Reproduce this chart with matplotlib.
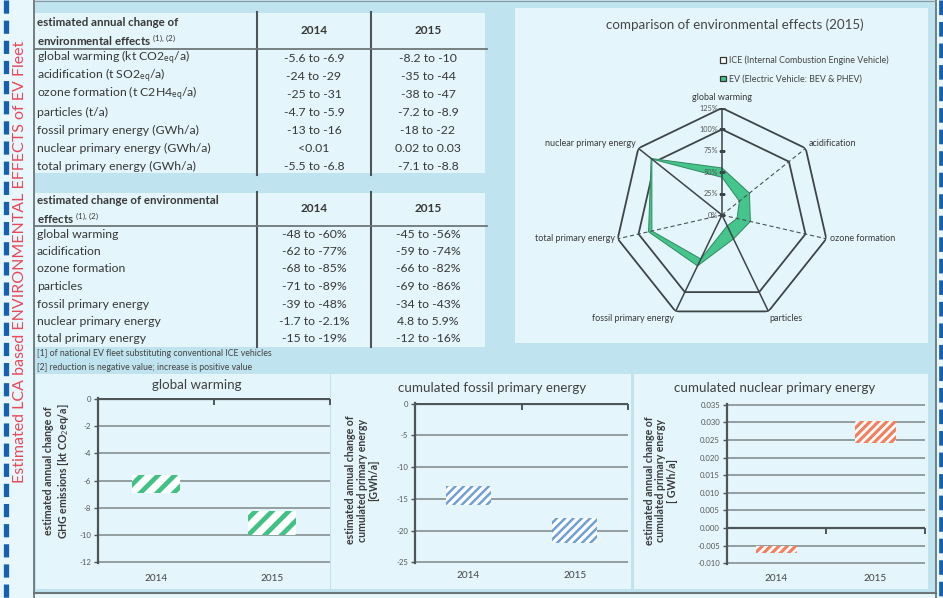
import numpy as np
import matplotlib.pyplot as plt
from matplotlib.patches import Rectangle, Patch

plt.rcParams['font.family'] = ['Lato', 'DejaVu Sans']
plt.rcParams['mathtext.fontset'] = 'custom'
plt.rcParams['mathtext.rm'] = 'Lato'
plt.rcParams['mathtext.it'] = 'Lato:italic'
plt.rcParams['mathtext.bf'] = 'Lato:bold'
plt.rcParams['axes.unicode_minus'] = False
plt.rcParams['lines.scale_dashes'] = False

W, H = 943, 598

# ---- table data ----
years = ["2014", "2015"]
annual_rows = ["global warming (kt CO2$_{\\mathrm{eq}}$/a)",
               "acidification (t SO2$_{\\mathrm{eq}}$/a)",
               "ozone formation (t C2H4$_{\\mathrm{eq}}$/a)",
               "particles (t/a)",
               "fossil primary energy (GWh/a)",
               "nuclear primary energy (GWh/a)",
               "total primary energy (GWh/a)"]
annual_2014 = ["-5.6 to -6.9", "-24 to -29", "-25 to -31", "-4.7 to -5.9",
               "-13 to -16", "<0.01", "-5.5 to -6.8"]
annual_2015 = ["-8.2 to -10", "-35 to -44", "-38 to -47", "-7.2 to -8.9",
               "-18 to -22", "0.02 to 0.03", "-7.1 to -8.8"]
rel_rows = ["global warming", "acidification", "ozone formation", "particles",
            "fossil primary energy", "nuclear primary energy", "total primary energy"]
rel_2014 = ["-48 to -60%", "-62 to -77%", "-68 to -85%", "-71 to -89%",
            "-39 to -48%", "-1.7 to -2.1%", "-15 to -19%"]
rel_2015 = ["-45 to -56%", "-59 to -74%", "-66 to -82%", "-69 to -86%",
            "-34 to -43%", "4.8 to 5.9%", "-12 to -16%"]
footnotes = ["[1] of national EV fleet substituting conventional ICE vehicles",
             "[2] reduction is negative value; increase is positive value"]

# ---- radar data (2015, % of ICE) ----
radar_cats = ["global warming", "acidification", "ozone formation", "particles",
              "fossil primary energy", "total primary energy", "nuclear primary energy"]
ice = [100, 100, 100, 100, 100, 100, 100]
ev_low = [44, 26, 18, 14, 57, 84, 104.8]
ev_high = [55, 41, 34, 31, 66, 88, 105.9]
radar_max = 125

# ---- range charts ----
gw_top = [-5.6, -8.2]
gw_bottom = [-6.9, -10.0]
fossil_top = [-13, -18]
fossil_bottom = [-16, -22]
nuclear_top = [-0.005, 0.0305]
nuclear_bottom = [-0.007, 0.024]

outer_bg = '#bfe3ef'
panel_bg = '#e4f6fc'
txt = '#383838'
green = '#45c58c'

fig = plt.figure(figsize=(W / 100, H / 100), dpi=100)
fig.patch.set_facecolor('#e8f7fc')


def frac(x, y, w, h):
    return [x / W, 1 - (y + h) / H, w / W, h / H]


bg = fig.add_axes([0, 0, 1, 1])
bg.set_xlim(0, W)
bg.set_ylim(H, 0)
bg.axis('off')
bg.add_patch(Rectangle((34, 0), 902, 592, facecolor=outer_bg, edgecolor='none'))
for (x, y, w, h) in [(35, 13, 450, 160), (35, 193, 450, 154), (515, 8, 413, 335),
                     (36, 374, 294, 215), (331, 374, 300, 215), (634, 374, 294, 215)]:
    bg.add_patch(Rectangle((x, y), w, h, facecolor=panel_bg, edgecolor='none'))
bg.plot([34, 34], [0, H], color='#6a767a', lw=1.3)
bg.plot([936, 936], [0, H], color='#6a767a', lw=1.3)
bg.plot([34, 936], [592.5, 592.5], color='#6a767a', lw=1.5)
bg.plot([34, 936], [0.5, 0.5], color='#8a969a', lw=0.8)
bg.plot([5.5, 5.5], [0, H], color='#1560b0', lw=3.8, dashes=(9.5, 5))
bg.plot([940.5, 940.5], [0, H], color='#1560b0', lw=3.4, dashes=(10.5, 5))

fig.text(20 / W, 1 - 262 / H, "Estimated LCA based ENVIRONMENTAL EFFECTS of EV Fleet",
         rotation=90, color='#e8485a', fontsize=11.5, ha='center', va='center')

# ---- tables ----
col_x = [314, 428]
fs = 8.8


def draw_table(top, bottom, head_y, line_y, row0, step, header, rows, c14, c15):
    for cx in (257, 371):
        bg.plot([cx, cx], [top, bottom], color='#4e5558', lw=1.5)
    bg.plot([35, 487], [line_y, line_y], color='#6e7679', lw=1.3)
    for k, h in enumerate(header):
        bg.text(37, head_y - 9 + 18 * k, h, fontsize=8.3, fontweight='bold', color=txt,
                va='center', ha='left')
    for cx, yr in zip(col_x, years):
        bg.text(cx, head_y, yr, fontsize=8.5, fontweight='bold', color=txt,
                ha='center', va='center')
    for i, (r, a, b) in enumerate(zip(rows, c14, c15)):
        y = row0 + i * step
        bg.text(37, y, r, fontsize=fs, color=txt, va='center', ha='left')
        bg.text(col_x[0], y, a, fontsize=fs, color=txt, va='center', ha='center')
        bg.text(col_x[1], y, b, fontsize=fs, color=txt, va='center', ha='center')


draw_table(12, 175, 31, 49, 58, 18,
           ["estimated annual change of", "environmental effects $^{(1),\\,(2)}$"],
           annual_rows, annual_2014, annual_2015)
draw_table(192, 347, 209, 226, 234, 17.5,
           ["estimated change of environmental", "effects $^{(1),\\,(2)}$"],
           rel_rows, rel_2014, rel_2015)
for i, f in enumerate(footnotes):
    bg.text(37, 353 + i * 14, f, fontsize=6.3, color='#444444', va='center', ha='left')

# ---- radar ----
fig.text(735 / W, 1 - 25 / H, "comparison of environmental effects (2015)",
         fontsize=9.6, color='#454545', ha='center', va='center')
rax = fig.add_axes(frac(615, 108, 214, 214), projection='polar')
rax.set_facecolor('none')
rax.set_theta_zero_location('N')
rax.set_theta_direction(-1)
rax.set_ylim(0, radar_max)
rax.grid(False)
rax.spines['polar'].set_visible(False)
rax.set_xticks([])
rax.set_yticks([])
theta = np.arange(len(radar_cats)) * 2 * np.pi / len(radar_cats)
tc = np.append(theta, theta[0])


def closed(v):
    return np.append(v, v[0])


rax.fill(tc, closed(ice), facecolor=panel_bg, edgecolor='#3e4548', lw=1.3, zorder=2)
rax.fill(tc, closed(ev_high), facecolor=green, edgecolor='#2f8a60', lw=0.7, zorder=3)
rax.fill(tc, closed(ev_low), facecolor=panel_bg, edgecolor='#2f8a60', lw=0.7, zorder=4)
rax.plot(tc, [radar_max] * len(tc), color='#3e4548', lw=1.3, zorder=5)
spoke_solid = [True, False, False, True, True, False, True]
for t, solid in zip(theta, spoke_solid):
    if solid:
        rax.plot([t, t], [0, radar_max], color='#3e4548', lw=1.1, zorder=6)
    else:
        rax.plot([t, t], [0, radar_max], color='#4a5255', lw=0.8,
                 dashes=(3, 2), zorder=6)
r_ticks = np.arange(0, radar_max + 1, 25)
rax.plot([0] * len(r_ticks), r_ticks, ls='none', marker='_', ms=4, color='#3e4548', zorder=7)
for v in r_ticks:
    rax.annotate(f"{v}%", (0, v), xytext=(-3, 0), textcoords='offset points',
                 ha='right', va='center', fontsize=5.3, color='#555555', zorder=8)
label_pos = [((0, 4), 'center', 'bottom'), ((2, 0), 'left', 'bottom'),
             ((3, 0), 'left', 'center'), ((1, -2), 'left', 'top'),
             ((-1, -2), 'right', 'top'), ((-2, 0), 'right', 'center'),
             ((-2, 0), 'right', 'bottom')]
for t, c, (off, ha, va) in zip(theta, radar_cats, label_pos):
    rax.annotate(c, (t, radar_max), xytext=off, textcoords='offset points',
                 ha=ha, va=va, fontsize=6.5, color='#3a3a3a', annotation_clip=False)
handles = [Patch(facecolor='white', edgecolor='#333333', lw=0.9),
           Patch(facecolor=green, edgecolor='#333333', lw=0.9)]
fig.legend(handles, ["ICE (Internal Combustion Engine Vehicle)",
                     "EV (Electric Vehicle: BEV & PHEV)"],
           loc='upper left', bbox_to_anchor=(716 / W, 1 - 51 / H), frameon=False,
           fontsize=6.4, handlelength=0.6, handleheight=0.6, handletextpad=0.4,
           labelspacing=1.1, borderpad=0, labelcolor='#444444')


# ---- range charts ----
def range_chart(rect, title, title_xy, top_vals, bot_vals, color, hatch, hlw,
                lims, step, fmt, ylabel, ylabel_x, ylabel_y, pad):
    ax = fig.add_axes(frac(*rect))
    ax.set_facecolor('none')
    x = np.arange(len(years))
    bars = ax.bar(x, np.array(bot_vals) - np.array(top_vals), bottom=top_vals,
                  width=0.42, facecolor='white', edgecolor=color, linewidth=0,
                  hatch=hatch, zorder=3)
    for b in bars:
        if hasattr(b, 'set_hatch_linewidth'):
            b.set_hatch_linewidth(hlw)
    ticks = np.arange(lims[0], lims[1] + step / 2, step)
    ax.set_yticks(ticks, [fmt(v) for v in ticks])
    span = lims[1] - lims[0]
    ax.set_ylim(lims[0] - span * 0.004, lims[1] + span * 0.004)
    ax.set_xlim(-0.5, 1.5)
    ax.grid(axis='y', color='#8d979a', lw=1.3)
    ax.set_axisbelow(True)
    ax.axhline(0, color='#4e5558', lw=1.6, zorder=4)
    ax.plot([0.5, 1.5], [0, 0], ls='none', marker=3, ms=4, mew=1.4,
            color='#4e5558', zorder=4, clip_on=False)
    for s in ('top', 'right', 'bottom'):
        ax.spines[s].set_visible(False)
    ax.spines['left'].set_color('#4e5558')
    ax.spines['left'].set_linewidth(1.6)
    ax.tick_params(axis='y', length=3, width=1, color='#4e5558', labelsize=5.6,
                   labelcolor='#555555', pad=2)
    ax.set_xticks(x, years)
    ax.tick_params(axis='x', length=0, labelsize=7.2, labelcolor='#444444', pad=pad)
    fig.text(title_xy[0] / W, 1 - title_xy[1] / H, title, fontsize=9.6,
             color='#404040', ha='center', va='center')
    fig.text(ylabel_x / W, 1 - ylabel_y / H, ylabel, rotation=90, fontsize=7.6,
             fontweight='bold', color='#3a3a3a', ha='center', va='center',
             linespacing=1.1)
    return ax


range_chart((98, 398, 232, 165), "global warming", (197, 385), gw_top, gw_bottom,
            '#3fc283', '//', 3.4, (-12, 0), 2, lambda v: f"{v:.0f}",
            "estimated annual change of\nGHG emissions [kt CO$_2$eq/a]", 57, 471, 8)
range_chart((415, 403, 213, 160), "cumulated fossil primary energy", (492, 388),
            fossil_top, fossil_bottom, '#6fa0d8', '////', 1.8, (-25, 0), 5,
            lambda v: f"{v:.0f}",
            "estimated annual change of\ncumulated primary energy\n[GWh/a]", 362, 480, 6)
range_chart((727, 404, 198, 160), "cumulated nuclear primary energy", (775, 388),
            nuclear_top, nuclear_bottom, '#f0805f', '////', 2.3, (-0.010, 0.035), 0.005,
            lambda v: f"{v:.3f}",
            "estimated annual change of\ncumulated primary energy\n[ GWh/a]", 661, 481, 7)

fig.savefig("out.png", dpi=100, facecolor=fig.get_facecolor())
